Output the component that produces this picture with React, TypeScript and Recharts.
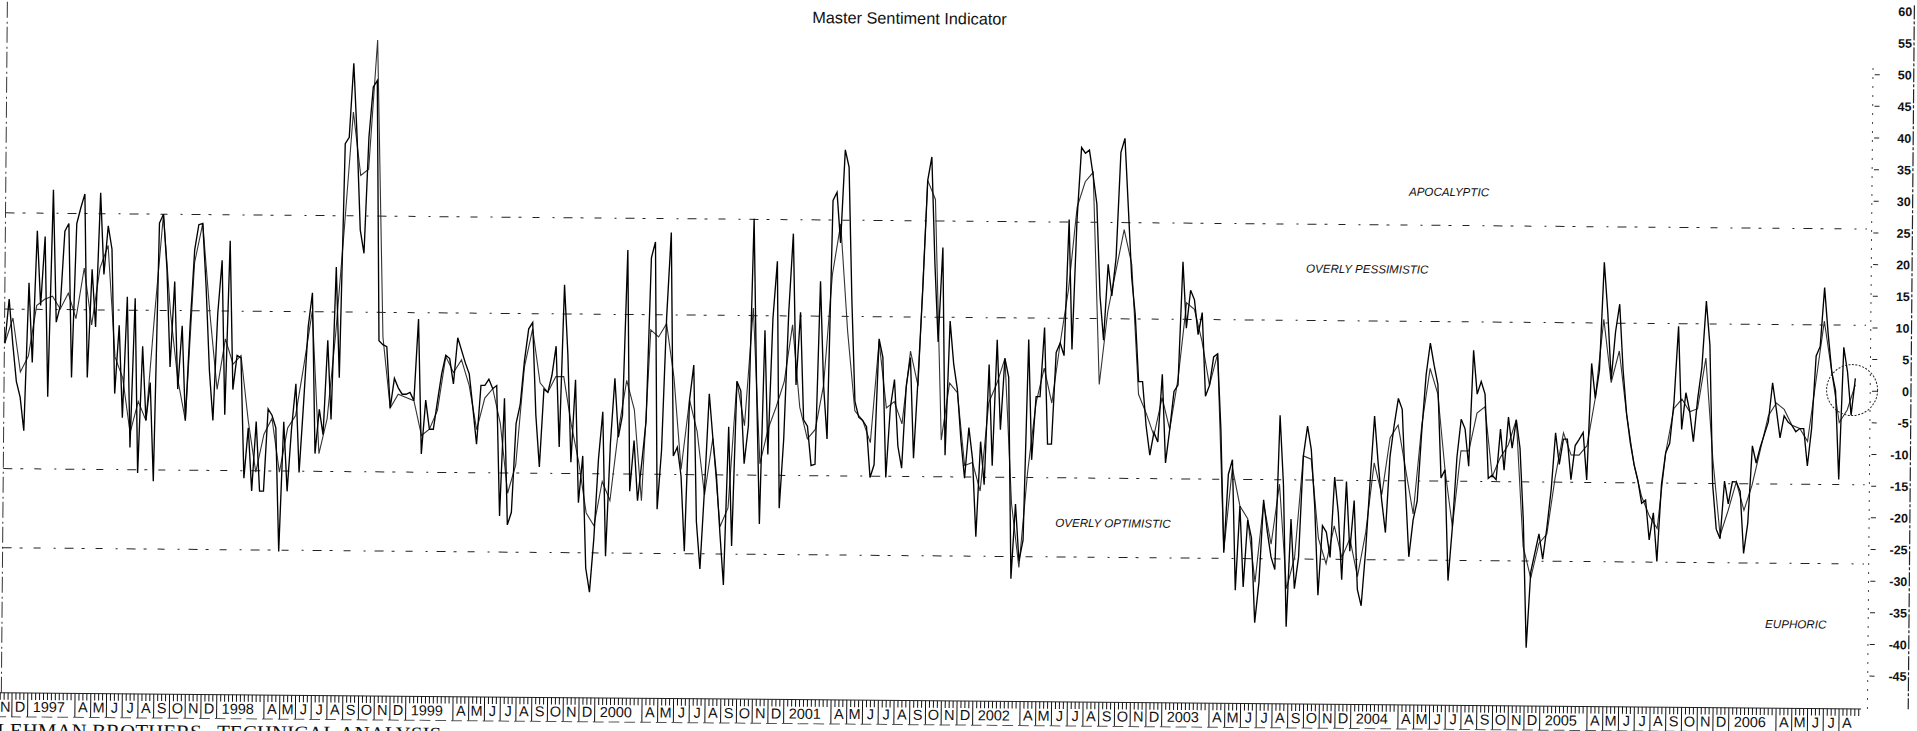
import { Line, LineChart, ReferenceDot, ReferenceLine, XAxis, YAxis } from "recharts";

// weekly-ish readings, one per quarter month starting Nov 1996
const roughA = [5,12,5,-1,-3.5,-8.8,14.6,2,22.8,11,21.9,-3.4,29.3,8.4,11,22.8,24,-0.3,24,26.5,28.7,-0.3,16.8,7.7,28.9,16,23.7,20,-2.8,8,-6.6,12.5,-11.3,12.3,-15.3,4.7,-7,-1,-16.6,24.2,25.6,17,1.5,15,-2,8,-7,8,20,24,24.2,14,1,-6.9,10,18.4,-6,21.5,-2,3.4,3,-16,-8,-18,-7,-18,-18,-5,-6,-8,-27.5,-7,-18,-8,-1,-15,-4,8,13.4,-12];
const roughB = [-5,-9,5.9,-6.6,17.5,0,37,38,49.7,38,23.4,19.7,38,46,47,5.9,5.3,5,-4.7,0,-1.5,-2.5,-2.5,-2.2,-3.5,9.4,-11.9,-3.4,-8,-8,-3.5,0.8,3.7,3.2,-0.8,6.5,4.5,2.5,0.8,-4.6,-10.3,-1,-1,0,-1.5,-1,-21.6,-3,-23,-21,-7,-4,3,8,9,-5.6,-13.8,-1.5,-2,0.7,5.3,-10.6,15,4,-13,0,-19.4,-12,-29.7,-33.5,-25,-12.5,-5,-27.8,-10,0.3,-9,-5.5,20.6];
const roughC = [-17.5,-9.5,-19,-13,-6.5,19.4,21.9,-20.3,-11,10,23.4,-11.9,-10.5,-15,-26.9,-3,2.5,-22.2,-29.7,-17,-2,-9,-15,-24,-32.2,-7.2,-26,0,-1.5,-13,-7,25.7,-1,-22.5,8.1,-11.5,10,19,-20,-9,11,23.4,-0.5,11,-6,-7,-13.2,-13,15.9,-0.5,-9,28.7,30,22,36.7,34,13,-3,-5.5,-6,-7,-15,-13,6.9,4,-15,-4,0.5,-10,-13.5,-0.5,4,-11.9,1,15,32,35.7,19,6.5];
const roughD = [21.4,-11.4,9.8,3,-1,-9,-15,-7,-12,-24.2,-9.2,-16,3,-13,6.9,-7.3,4,1,-30.8,-19,-28,-24.7,7,-12,-2,-2,8.9,-9.5,-9.5,5,6.5,4.5,26,5.5,26,37.4,36.5,37,33,28.5,14,7,19,14,20,36.7,38.9,28,17,11,0.5,0.5,-6.5,-11.1,-7.5,-9,1.7,-12.3,-7,-1,0,19.5,9,15,13.5,8,11.5,-1.7,0,4.5,5,-7,-26.4,-14,-11.7,-32.3,-19,-31.8];
const roughE = [-21.2,-24,-37.4,-31,-18,-23,-27,-29,-4.6,-15.5,-38,-21,-32,-27,-11,-6.3,-10,-19,-33,-22,-23,-27,-14.3,-20,-30.5,-15,-26,-18,-32,-34.6,-26,-15,-4.6,-12,-18,-23,-11,-6,-1.8,-3.5,-16,-26.8,-21,-18,-7,2,7,3.5,0.5,-14.3,-13,-30.5,-22,-11,-5,-6.5,-12.4,5.9,-1,1,-1,-14.3,-13.8,-14.5,-6.5,-13,-4.6,-9.5,-5,-9.5,-21,-41,-29,-26,-23,-27,-22,-16,-7];
const roughF = [-12,-8,-8,-14.4,-9,-8,-6.9,-14.4,4,-1.5,3,20,12,1.5,9,13.4,3,-4,-8.5,-11.9,-14.4,-18,-17.5,-23.8,-19.5,-27.2,-15,-10,-8.5,-2,10,-6.3,-0.5,-3.4,-8.2,-1.5,3.5,14,7,-15,-22,-23.5,-14.4,-18,-14.5,-14.5,-16,-25.8,-21,-8.8,-11.5,-9,-7,-5,1.2,-3,-7.5,-4,-5,-5.5,-6.5,-6,-6,-11.9,-6,5.5,7,16.3,9,3,0,-14,6.9,3,-3.8,2];

// slower average, one per half month
const smoothA = [5,9,0.5,3,11,12,12.5,10.5,13,9,17,8,17,20.6,3,-0.3,-9,-4,-7,10,25.6,10,-0.5,-6.9,18,24.2,10,-2,6,2,3.4,-7,-15,-9,-6.5,-15,-8,-6,2,10.5];
const smoothB = [-12,-6.5,7,24,42,32,33,53.4,6.5,-4.7,-2.5,-3,-3.5,-9,-8,-5,3.5,1,3,-1,-8,-3,-1.5,-7,-18,-13.5,2,8,-0.5,-2,0.5,0.5,-7,-13,-21,-23,-16,-19,-8,0];
const smoothC = [-4.6,-19,8,6.9,9,0.5,-14,-3,-8,-18,-9,-23,-20,0,-7,11.6,-13,-7.5,-4,0,9,-4,-9,-7.5,-0.5,17,25,8,-4.5,-6,-9.5,6.5,-4,-3,-6.5,5,-0.5,32,29];
const smoothD = [-9,0,-1.5,-13,-12.5,-17,-3,0,4,-19,-29,-14,-3,2.5,-3,6.5,15,28,32,33.5,0,11.5,18,24.5,19,-1.5,-4.5,-8,-2,-7,1,13,12,7,0,5,-26,-13,-19];
const smoothE = [-21,-31,-18.5,-25,-15.5,-32,-27,-11,-11.5,-24,-28,-22,-27,-24,-30,-23,-12,-17,-8,-6,-13,-20,-6,3,-1,-13,-22,-10,-10,-4,-3,-14,-11,-9,-5,-25,-30,-24.5,-23,-14];
const smoothF = [-7,-10.5,-10.5,-9,-1.5,11,1,6,-4,-12,-17,-20,-22,-10,-3,-1.5,-3.5,-3,5,-11,-23,-19,-14.5,-19,-15,-9.5,-4,-2,-3,-5.5,-6,-8,1.5,11,3,-5,-3,1];

const monthLabels = ["N","D","1997","","","A","M","J","J","A","S","O","N","D","1998","","","A","M","J","J","A","S","O","N","D","1999","","","A","M","J","J","A","S","O","N","D","2000","","","A","M","J","J","A","S","O","N","D","2001","","","A","M","J","J","A","S","O","N","D","2002","","","A","M","J","J","A","S","O","N","D","2003","","","A","M","J","J","A","S","O","N","D","2004","","","A","M","J","J","A","S","O","N","D","2005","","","A","M","J","J","A","S","O","N","D","2006","","","A","M","J","J","A"];
const valueTicks = [60,55,50,45,40,35,30,25,20,15,10,5,0,-5,-10,-15,-20,-25,-30,-35,-40,-45];
const zoneLines = [25.6, 10.4, -14.8, -27.3];
const zoneLabels = [
  { text: "APOCALYPTIC", month: 91.95, value: 30.9 },
  { text: "OVERLY PESSIMISTIC", month: 86.8, value: 18.6 },
  { text: "OVERLY OPTIMISTIC", month: 70.8, value: -21.9 },
  { text: "EUPHORIC", month: 114.2, value: -36.9 },
];

const rough = [...roughA, ...roughB, ...roughC, ...roughD, ...roughE, ...roughF].map((v, i) => ({ month: 0.35 + i * 0.25, v }));
const smooth = [...smoothA, ...smoothB, ...smoothC, ...smoothD, ...smoothE, ...smoothF].map((v, i) => ({ month: 0.35 + i * 0.5, v }));

const minMonth = 0.0635;
const maxMonth = 121.39;
const leftAxisMonth = 0.32;
const lastTickMonth = 118.4;
const tickMonths: number[] = [minMonth];
for (let m = 0.25; m <= lastTickMonth; m += 0.25) tickMonths.push(m);

function MonthTick({ x, y, payload }: any) {
  const m = payload.value;
  const isFirst = m === minMonth;
  const isWhole = isFirst || Number.isInteger(m);
  const label = isFirst ? monthLabels[0] : (isWhole && monthLabels[m]) || "";
  const isYear = label.length > 1;
  const boxed = isWhole && label !== "";
  return (
    <g stroke="#111" strokeWidth={1}>
      <line x1={x} x2={x} y1={y} y2={y + (boxed ? 24 : 7)} />
      {isWhole && <line x1={x} x2={x + 15.75} y1={y + 24} y2={y + 24} strokeDasharray="9 5" stroke="#555" />}
      {label && (
        <text
          x={isYear ? x + 5 : x + 8}
          y={y + 19}
          textAnchor={isYear ? "start" : "middle"}
          fontFamily="Liberation Sans"
          fontSize={14.5}
          fill="#111"
          stroke="none"
        >
          {label}
        </text>
      )}
    </g>
  );
}

function ValueTick({ x, y, payload }: any) {
  const v = payload.value;
  return (
    <g>
      {Math.abs(v) <= 50 && <line x1={x - 39} x2={x - 34} y1={y} y2={y} stroke="#222" />}
      <text x={x - 2} y={y + 4.5} textAnchor="end" fontFamily="Liberation Sans" fontSize={12.5} fontWeight={700} fill="#111">
        {v}
      </text>
    </g>
  );
}

export default function App() {
  return (
    <div style={{ position: "absolute", left: 0, top: 0, width: 1917, height: 731, overflow: "hidden", background: "#fff" }}>
      <div style={{ position: "relative", width: 1917, height: 770, transform: "rotate(0.5deg)", transformOrigin: "1870px 391px" }}>
        <LineChart width={1917} height={770} margin={{ top: 5, right: 6, left: 0, bottom: 0 }}>
          <XAxis
            type="number"
            dataKey="month"
            domain={[minMonth, maxMonth]}
            ticks={tickMonths}
            interval={0}
            allowDataOverflow
            height={61}
            tickLine={false}
            tickSize={0}
            tickMargin={0}
            axisLine={false}
            tick={<MonthTick />}
          />
          <YAxis
            orientation="right"
            mirror
            type="number"
            domain={[-50.2, 61]}
            ticks={valueTicks}
            interval={0}
            allowDataOverflow
            tickLine={false}
            tickSize={0}
            tickMargin={0}
            axisLine={{ stroke: "#222", strokeWidth: 1.2, strokeDasharray: "14 2 3 2" }}
            tick={<ValueTick />}
          />
          {zoneLines.map((v) => (
            <ReferenceLine
              key={v}
              segment={[{ x: leftAxisMonth, y: v }, { x: 118.5, y: v }]}
              stroke="#222"
              strokeDasharray="9 8 3 11 7 13 2 9"
            />
          ))}
          <ReferenceLine segment={[{ x: leftAxisMonth, y: -50.2 }, { x: leftAxisMonth, y: 61 }]} stroke="#333" strokeDasharray="16 3 2 4" />
          <ReferenceLine segment={[{ x: 118.8, y: -50.2 }, { x: 118.8, y: 52 }]} stroke="#444" strokeDasharray="2 7" />
          <ReferenceLine segment={[{ x: minMonth, y: -50.2 }, { x: lastTickMonth, y: -50.2 }]} stroke="#222" />
          <Line data={smooth} dataKey="v" type="linear" stroke="#333" strokeWidth={1.1} dot={false} isAnimationActive={false} />
          <Line data={rough} dataKey="v" type="linear" stroke="#000" strokeWidth={1.35} dot={false} isAnimationActive={false} />
          <ReferenceDot x={117.65} y={0.15} r={25.5} fill="none" stroke="#222" strokeWidth={1} strokeDasharray="2 1.5" />
          <ReferenceDot
            x={57.6}
            y={57.6}
            r={0}
            fill="none"
            stroke="none"
            label={{ value: "Master Sentiment Indicator", position: "center", fill: "#111", fontSize: 16.3, fontFamily: "Liberation Sans" }}
          />
          {zoneLabels.map((z) => (
            <ReferenceDot
              key={z.text}
              x={z.month}
              y={z.value}
              r={0}
              fill="none"
              stroke="none"
              label={{ value: z.text, position: "center", fill: "#111", fontSize: 11.6, fontStyle: "italic", fontFamily: "Liberation Sans" }}
            />
          ))}
        </LineChart>
        <div
          style={{
            position: "absolute",
            left: 0,
            top: 735,
            fontFamily: "Liberation Serif",
            fontSize: 21,
            whiteSpace: "pre",
            color: "#111",
          }}
        >
          {"LEHMAN BROTHERS   TECHNICAL ANALYSIS"}
        </div>
      </div>
    </div>
  );
}
